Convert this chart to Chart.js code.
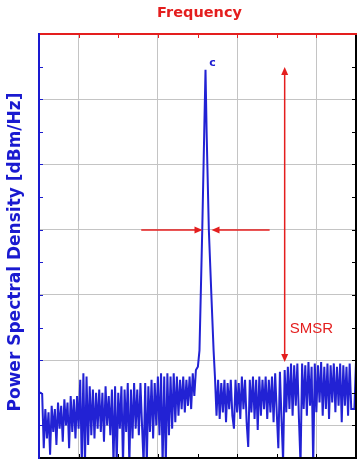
<!DOCTYPE html>
<html>
<head>
<meta charset="utf-8">
<script src="https://cdn.jsdelivr.net/npm/chart.js@4.4.0/dist/chart.umd.min.js"></script>
<style>
  html, body { margin: 0; padding: 0; background: #fff; }
</style>
</head>
<body>
<canvas id="psdChart" width="364" height="476"></canvas>
<script>
// Spectrum trace, x in grid divisions (grid lines at 0..3), y in dB
const SAMPLE_STEP = 0.02;

const lowBandStart = -0.5;
const lowBandPsd = [
    -55.0, -55.0, -55.2, -63.5, -57.5, -62.0, -58.0, -64.5, -57.0, -61.0,
    -57.5, -63.0, -56.5, -60.5, -57.0, -62.5, -56.0, -60.0, -56.5, -63.5,
    -55.5, -61.0, -56.0, -62.0, -55.5, -60.5, -53.0, -66.0, -52.0, -66.0,
    -52.5, -63.0, -54.0, -61.5, -54.5, -62.0, -55.0, -60.5, -54.5, -61.0,
    -55.0, -62.5, -54.0, -60.0, -55.5, -61.5, -54.5, -66.0, -54.0, -66.0,
    -55.0, -60.5, -54.0, -66.0, -54.5, -61.0, -53.5, -66.0, -54.5, -62.0,
    -53.5, -60.5, -54.5, -61.5, -53.5, -60.0, -66.0, -53.5, -66.0, -54.0,
    -61.0, -53.0, -62.0, -53.5, -60.0, -52.5, -61.5, -52.0, -66.0, -52.5,
    -66.0, -52.0, -61.5, -52.5, -60.5, -52.0, -59.5, -52.5, -58.5, -53.0,
    -57.5, -52.5, -58.0, -53.0, -57.0, -52.5, -57.5, -52.0, -55.5, -51.5
];

const peakFreq = [1.505, 1.525, 1.56, 1.585, 1.601, 1.615, 1.643, 1.675, 1.703, 1.72];
const peakPsd  = [-51.0, -48.5, -30.0, -15.0, -5.5, -15.0, -30.0, -40.0, -48.5, -52.5];

const highBandStart = 1.74;
const highBandPsd = [
    -58.5, -53.0, -59.0, -53.5, -58.0, -53.0, -59.5, -53.5, -57.5, -53.0,
    -58.5, -60.5, -53.0, -58.0, -53.5, -59.0, -52.5, -57.5, -53.0, -59.5,
    -63.3, -53.0, -58.0, -52.5, -59.0, -53.0, -60.7, -52.5, -58.5, -53.0,
    -57.5, -52.5, -59.0, -53.0, -58.0, -52.5, -59.5, -52.0, -58.0, -63.5,
    -51.8, -59.0, -65.5, -51.5, -58.0, -51.0, -57.5, -50.5, -58.5, -50.8,
    -57.0, -50.5, -59.0, -66.0, -50.5, -57.5, -50.8, -58.5, -50.3, -57.0,
    -51.0, -66.0, -50.5, -58.0, -50.8, -56.5, -50.3, -58.5, -51.0, -57.5,
    -50.5, -59.0, -50.8, -56.5, -50.5, -58.0, -51.0, -57.0, -50.5, -59.5,
    -50.8, -57.0, -51.0, -58.5, -50.5, -57.5, -57.5, -57.5, -50.2
];

const xRange = [-0.5, 3.5];
const yRange = [-65, 0];

// annotation anchors in data units
const widthArrowY = -30.06;
const widthArrowLeft = [0.79, 1.563];
const widthArrowRight = [2.41, 1.677];
const smsrArrowX = 2.60;
const smsrArrowSpan = [-5.06, -50.3];
const smsrLabel = { text: 'SMSR', x: 2.665, y: -45.2 };
const peakLabel = { text: 'c', x: 1.69, y: -4.45 };

const TRACE_BLUE = '#2222d4';
const AXIS_BLUE = '#1a1ad0';
const RED = '#e41e1e';

function toPoints(start, values) {
    return values.map((v, i) => ({ x: start + i * SAMPLE_STEP, y: v }));
}

const trace = toPoints(lowBandStart, lowBandPsd)
    .concat(peakFreq.map((f, i) => ({ x: f, y: peakPsd[i] })))
    .concat(toPoints(highBandStart, highBandPsd));

function arrowHead(ctx, x, y, dx, dy) {
    // filled triangle with its tip at (x, y), pointing along (dx, dy)
    const len = 8, half = 3.5;
    const bx = x - dx * len, by = y - dy * len;
    ctx.beginPath();
    ctx.moveTo(x, y);
    ctx.lineTo(bx - dy * half, by + dx * half);
    ctx.lineTo(bx + dy * half, by - dx * half);
    ctx.closePath();
    ctx.fill();
}

const framePlugin = {
    id: 'frame',
    afterDraw(chart) {
        const ctx = chart.ctx;
        const a = chart.chartArea;
        const xs = chart.scales.x, ys = chart.scales.y;
        ctx.save();

        // ticks pointing inward
        ctx.lineWidth = 1;
        xs.ticks.forEach(t => {
            const px = Math.round(xs.getPixelForValue(t.value)) + 0.5;
            ctx.strokeStyle = RED;
            ctx.beginPath(); ctx.moveTo(px, a.top); ctx.lineTo(px, a.top + 4); ctx.stroke();
            ctx.strokeStyle = '#000';
            ctx.beginPath(); ctx.moveTo(px, a.bottom); ctx.lineTo(px, a.bottom - 4); ctx.stroke();
        });
        ys.ticks.forEach(t => {
            const py = Math.round(ys.getPixelForValue(t.value)) + 0.5;
            ctx.strokeStyle = AXIS_BLUE;
            ctx.beginPath(); ctx.moveTo(a.left, py); ctx.lineTo(a.left + 4, py); ctx.stroke();
            ctx.strokeStyle = '#000';
            ctx.beginPath(); ctx.moveTo(a.right, py); ctx.lineTo(a.right - 4, py); ctx.stroke();
        });

        // frame: blue left, red top, black right/bottom
        ctx.lineWidth = 2;
        ctx.strokeStyle = '#000';
        ctx.beginPath();
        ctx.moveTo(a.right, a.top); ctx.lineTo(a.right, a.bottom); ctx.lineTo(a.left, a.bottom);
        ctx.stroke();
        ctx.strokeStyle = RED;
        ctx.beginPath(); ctx.moveTo(a.left, a.top); ctx.lineTo(a.right + 1, a.top); ctx.stroke();
        ctx.strokeStyle = AXIS_BLUE;
        ctx.beginPath(); ctx.moveTo(a.left, a.top - 1); ctx.lineTo(a.left, a.bottom + 1); ctx.stroke();

        // linewidth arrows
        ctx.strokeStyle = RED;
        ctx.fillStyle = RED;
        ctx.lineWidth = 1.5;
        const hy = ys.getPixelForValue(widthArrowY);
        const l0 = xs.getPixelForValue(widthArrowLeft[0]), l1 = xs.getPixelForValue(widthArrowLeft[1]);
        const r0 = xs.getPixelForValue(widthArrowRight[0]), r1 = xs.getPixelForValue(widthArrowRight[1]);
        ctx.beginPath(); ctx.moveTo(l0, hy); ctx.lineTo(l1 - 6, hy); ctx.stroke();
        arrowHead(ctx, l1, hy, 1, 0);
        ctx.beginPath(); ctx.moveTo(r0, hy); ctx.lineTo(r1 + 6, hy); ctx.stroke();
        arrowHead(ctx, r1, hy, -1, 0);

        // SMSR arrow
        const vx = xs.getPixelForValue(smsrArrowX);
        const v0 = ys.getPixelForValue(smsrArrowSpan[0]), v1 = ys.getPixelForValue(smsrArrowSpan[1]);
        ctx.beginPath(); ctx.moveTo(vx, v0 + 6); ctx.lineTo(vx, v1 - 6); ctx.stroke();
        arrowHead(ctx, vx, v0, 0, -1);
        arrowHead(ctx, vx, v1, 0, 1);

        ctx.font = '15px "Liberation Sans", Arial, sans-serif';
        ctx.textAlign = 'left';
        ctx.textBaseline = 'middle';
        ctx.fillText(smsrLabel.text, xs.getPixelForValue(smsrLabel.x), ys.getPixelForValue(smsrLabel.y));

        ctx.fillStyle = AXIS_BLUE;
        ctx.font = 'bold 11px "DejaVu Sans", sans-serif';
        ctx.textAlign = 'center';
        ctx.fillText(peakLabel.text, xs.getPixelForValue(peakLabel.x), ys.getPixelForValue(peakLabel.y));

        // axis titles
        ctx.fillStyle = RED;
        ctx.font = 'bold 14.5px "DejaVu Sans", sans-serif';
        ctx.fillText('Frequency', (a.left + a.right) / 2 + 2, 13);

        ctx.fillStyle = AXIS_BLUE;
        ctx.font = 'bold 17px "DejaVu Sans", sans-serif';
        ctx.translate(16, 252);
        ctx.rotate(-Math.PI / 2);
        ctx.fillText('Power Spectral Density [dBm/Hz]', 0, 0);
        ctx.restore();
    }
};

new Chart(document.getElementById('psdChart').getContext('2d'), {
    type: 'line',
    data: {
        datasets: [{
            data: trace,
            borderColor: TRACE_BLUE,
            borderWidth: 2,
            pointRadius: 0,
            tension: 0,
            fill: false
        }]
    },
    options: {
        responsive: false,
        animation: false,
        events: [],
        layout: { padding: { left: 39, right: 8, top: 34, bottom: 18 } },
        plugins: {
            legend: { display: false },
            tooltip: { enabled: false }
        },
        scales: {
            x: {
                type: 'linear',
                min: xRange[0],
                max: xRange[1],
                ticks: { display: false, stepSize: 0.5 },
                border: { display: false },
                grid: {
                    drawTicks: false,
                    color: c => (c.tick && Number.isInteger(c.tick.value) ? '#c4c4c4' : 'rgba(0,0,0,0)')
                }
            },
            y: {
                min: yRange[0],
                max: yRange[1],
                ticks: { display: false, stepSize: 5 },
                border: { display: false },
                grid: {
                    drawTicks: false,
                    color: c => (c.tick && c.tick.value % 10 === 0 ? '#c4c4c4' : 'rgba(0,0,0,0)')
                }
            }
        }
    },
    plugins: [framePlugin]
});
</script>
</body>
</html>
